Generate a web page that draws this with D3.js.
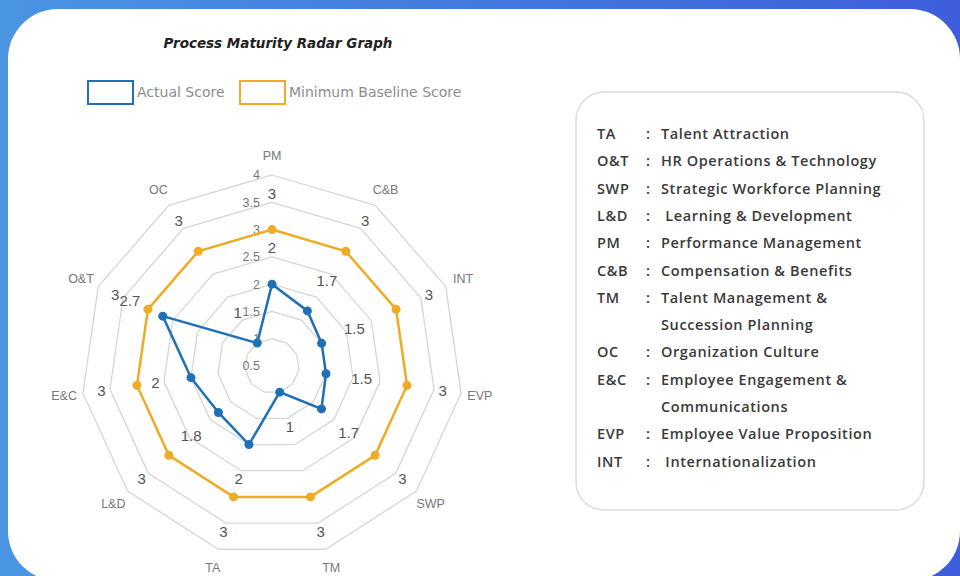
<html>
<head>
<script src="https://d3js.org/d3.v7.min.js"></script>
<style>
body { margin: 0; background: #fff; }
svg { display: block; }
</style>
</head>
<body>
<div id="plot"></div>
<script>
var width = 960;
var height = 576;

// chart data
var categories = ["PM", "C&B", "INT", "EVP", "SWP", "TM", "TA", "L&D", "E&C", "O&T", "OC"];
var actualScore = [2, 1.7, 1.5, 1.5, 1.7, 1, 2, 1.8, 2, 2.7, 1];
var baselineScore = [3, 3, 3, 3, 3, 3, 3, 3, 3, 3, 3];
var tickValues = [0.5, 1, 1.5, 2, 2.5, 3, 3.5, 4];

// glossary panel
var glossAbbr = ["TA", "O&T", "SWP", "L&D", "PM", "C&B", "TM", "", "OC", "E&C", "", "EVP", "INT"];
var glossText = ["Talent Attraction", "HR Operations & Technology", "Strategic Workforce Planning",
  " Learning & Development", "Performance Management", "Compensation & Benefits",
  "Talent Management &", "Succession Planning", "Organization Culture",
  "Employee Engagement &", "Communications", "Employee Value Proposition", " Internationalization"];

var svg = d3.select("#plot").append("svg")
  .attr("width", width).attr("height", height);

var defs = svg.append("defs");
var grad = defs.append("linearGradient").attr("id", "bg")
  .attr("x1", 0).attr("x2", 1).attr("y1", 0).attr("y2", 0);
grad.append("stop").attr("offset", 0).attr("stop-color", "#4a95e2");
grad.append("stop").attr("offset", 1).attr("stop-color", "#3e5edb");

svg.append("rect").attr("width", width).attr("height", height).attr("fill", "url(#bg)");
svg.append("rect").attr("x", 8).attr("y", 9).attr("width", 952).attr("height", 572)
  .attr("rx", 50).attr("fill", "#fff");

// title + legend
svg.append("text").attr("x", 278).attr("y", 48).attr("text-anchor", "middle")
  .style("font-family", "'DejaVu Sans', Verdana, sans-serif")
  .style("font-size", "13.5px").style("font-weight", "bold").style("font-style", "italic")
  .style("fill", "#222").text("Process Maturity Radar Graph");

var legend = [
  { name: "Actual Score", color: "#1f70b6", x: 88 },
  { name: "Minimum Baseline Score", color: "#f0ab25", x: 240 }
];
legend.forEach(function (d) {
  svg.append("rect").attr("x", d.x).attr("y", 81).attr("width", 45).attr("height", 23)
    .attr("fill", "none").attr("stroke", d.color).attr("stroke-width", 2);
  svg.append("text").attr("x", d.x + 49).attr("y", 97)
    .style("font-family", "'DejaVu Sans', Verdana, sans-serif")
    .style("font-size", "14px").style("fill", "#8c8c8c").text(d.name);
});

// radar
var cx = 272, cy = 366;
var rScale = d3.scaleLinear().domain([0.5, 4]).range([0, 191]);
var angle = d3.scaleLinear().domain([0, categories.length]).range([0, 2 * Math.PI]);

function pt(i, r) {
  var a = angle(i);
  return [cx + r * Math.sin(a), cy - r * Math.cos(a)];
}

var g = svg.append("g");

tickValues.slice(1).forEach(function (v) {
  var pts = categories.map(function (c, i) { return pt(i, rScale(v)); });
  g.append("polygon").attr("points", pts.map(function (p) { return p.join(","); }).join(" "))
    .attr("fill", "none").attr("stroke", "#d6d6d6").attr("stroke-width", 1.3);
});

g.selectAll(".tick").data(tickValues).enter().append("text")
  .attr("x", cx - 12).attr("y", function (d) { return cy - rScale(d); })
  .attr("dy", "0.35em").attr("text-anchor", "end")
  .style("font-family", "'Liberation Sans', Arial, sans-serif")
  .style("font-size", "12.5px").style("fill", "#777")
  .text(function (d) { return d; });

g.selectAll(".cat").data(categories).enter().append("text")
  .attr("x", function (d, i) { return pt(i, 210)[0]; })
  .attr("y", function (d, i) { return pt(i, 210)[1]; })
  .attr("dy", "0.35em").attr("text-anchor", "middle")
  .style("font-family", "'Liberation Sans', Arial, sans-serif")
  .style("font-size", "12.5px").style("fill", "#777")
  .text(function (d) { return d; });

var line = d3.line()
  .x(function (d, i) { return pt(i, rScale(d))[0]; })
  .y(function (d, i) { return pt(i, rScale(d))[1]; })
  .curve(d3.curveLinearClosed);

function drawSeries(values, color) {
  g.append("path").attr("d", line(values))
    .attr("fill", "none").attr("stroke", color).attr("stroke-width", 2.5);
  values.forEach(function (v, i) {
    var p = pt(i, rScale(v));
    g.append("circle").attr("cx", p[0]).attr("cy", p[1]).attr("r", 4.5).attr("fill", color);
  });
  values.forEach(function (v, i) {
    var p = pt(i, rScale(v) + 36);
    g.append("text").attr("x", p[0]).attr("y", p[1]).attr("dy", "0.35em")
      .attr("text-anchor", "middle")
      .style("font-family", "'Liberation Sans', Arial, sans-serif")
      .style("font-size", "15px").style("fill", "#555").text(v);
  });
}

drawSeries(baselineScore, "#f0ab25");
drawSeries(actualScore, "#1f70b6");

// glossary box
svg.append("rect").attr("x", 576).attr("y", 92).attr("width", 348).attr("height", 418)
  .attr("rx", 28).attr("fill", "#fff").attr("stroke", "#dcdcdc").attr("stroke-width", 1.5);

var rowY = d3.scaleLinear().domain([0, 1]).range([134, 161.3]);
var font = "'Open Sans', 'Noto Sans', sans-serif";
function glossLabel(x, y, t) {
  svg.append("text").attr("x", x).attr("y", y).attr("dy", "0.35em")
    .style("white-space", "pre")
    .style("font-family", font).style("font-size", "14.5px").style("font-weight", 600)
    .style("letter-spacing", "0.6px")
    .style("fill", "#3a3a3a").text(t);
}
glossText.forEach(function (t, i) {
  var y = rowY(i);
  if (glossAbbr[i]) {
    glossLabel(597, y, glossAbbr[i]);
    glossLabel(646, y, ":");
  }
  glossLabel(661, y, t);
});
</script>
</body>
</html>
